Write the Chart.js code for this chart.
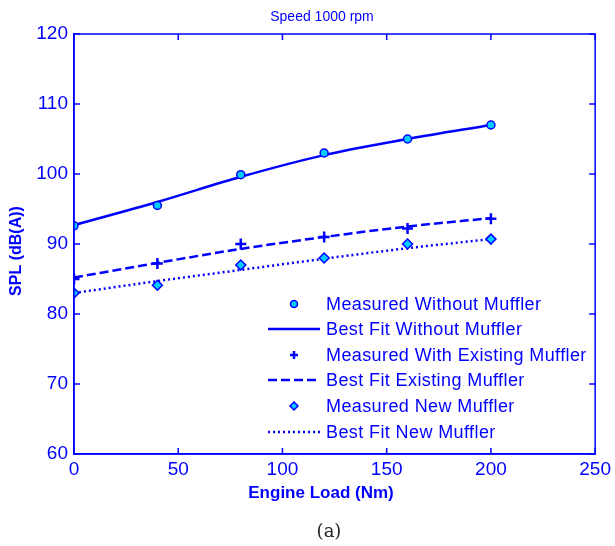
<!DOCTYPE html>
<html>
<head>
<meta charset="utf-8">
<script src="https://cdn.jsdelivr.net/npm/chart.js@4.4.1/dist/chart.umd.min.js"></script>
<style>
  html, body { margin: 0; padding: 0; background: #fff; }
  #wrap { width: 615px; height: 546px; position: relative; }
</style>
</head>
<body>
<div id="wrap"><canvas id="grafico"></canvas></div>
<script>
// engine load (Nm)
var loads = [0, 40, 80, 120, 160, 200];

// SPL dB(A)
var measuredWithout = [92.6, 95.5, 99.9, 103.0, 105.0, 107.0];
var fitWithout      = [92.7, 96.0, 99.6, 102.7, 105.0, 107.0];
var measuredExisting = [85.0, 87.2, 90.0, 91.0, 92.2, 93.6];
var fitExisting      = [85.2, 87.3, 89.3, 91.0, 92.5, 93.7];
var measuredNew = [83.0, 84.1, 87.0, 88.0, 90.0, 90.7];
var fitNew      = [83.0, 84.7, 86.3, 87.9, 89.4, 90.7];

var yTicks = [60, 70, 80, 90, 100, 110, 120];
var xTicks = [0, 50, 100, 150, 200, 250];

var blue = '#0000ff';
var cyan = '#00ccff';
var tickFont = { family: '"Liberation Sans Narrow", "Liberation Sans", Arial, sans-serif', size: 19 };

var pts = function(vals) {
  return loads.map(function(x, i) { return { x: x, y: vals[i] }; });
};

// box, inward ticks, texts and legend drawn like the matlab figure
var matlabFrame = {
  id: 'matlabFrame',
  afterDraw: function(chart) {
    var ctx = chart.ctx, a = chart.chartArea;
    var xs = chart.scales.x, ys = chart.scales.y;
    ctx.save();
    ctx.strokeStyle = blue;
    ctx.lineWidth = 1.5;
    ctx.strokeRect(a.left, a.top, a.right - a.left, a.bottom - a.top);
    ctx.beginPath();
    xTicks.forEach(function(v) {
      var px = xs.getPixelForValue(v);
      ctx.moveTo(px, a.bottom); ctx.lineTo(px, a.bottom - 6);
      ctx.moveTo(px, a.top); ctx.lineTo(px, a.top + 6);
    });
    yTicks.forEach(function(v) {
      var py = ys.getPixelForValue(v);
      ctx.moveTo(a.left, py); ctx.lineTo(a.left + 6, py);
      ctx.moveTo(a.right, py); ctx.lineTo(a.right - 6, py);
    });
    ctx.stroke();

    // titles
    ctx.fillStyle = blue;
    ctx.textAlign = 'center';
    ctx.textBaseline = 'middle';
    ctx.font = '14px "Liberation Sans", Arial, sans-serif';
    ctx.fillText('Speed 1000 rpm', 322, 17);
    ctx.font = 'bold 17px "Liberation Sans", Arial, sans-serif';
    ctx.fillText('Engine Load (Nm)', 321, 493);
    ctx.save();
    ctx.translate(17, 251);
    ctx.rotate(-Math.PI / 2);
    ctx.font = 'bold 16px "Liberation Sans", Arial, sans-serif';
    ctx.fillText('SPL (dB(A))', 0, 0);
    ctx.restore();
    ctx.fillStyle = '#222';
    ctx.font = '18px "DejaVu Serif", "Liberation Serif", serif';
    ctx.fillText('(a)', 329, 532);

    // legend
    var rowY = [304, 329, 355, 380, 406, 432];
    ctx.font = '18px "Liberation Sans", Arial, sans-serif';
    ctx.letterSpacing = '0.4px';
    ctx.textAlign = 'left';
    chart.data.datasets.forEach(function(ds, i) {
      var y = rowY[i];
      if (ds.showLine === false) {
        ctx.fillStyle = ds.backgroundColor;
        ctx.strokeStyle = ds.borderColor;
        ctx.lineWidth = ds.borderWidth;
        ctx.beginPath();
        if (ds.pointStyle === 'circle') {
          ctx.arc(294, y, 3.5, 0, Math.PI * 2);
          ctx.fill(); ctx.stroke();
        } else if (ds.pointStyle === 'rectRot') {
          ctx.moveTo(294, y - 4); ctx.lineTo(298, y); ctx.lineTo(294, y + 4); ctx.lineTo(290, y); ctx.closePath();
          ctx.fill(); ctx.stroke();
        } else {
          ctx.moveTo(290, y); ctx.lineTo(298, y); ctx.moveTo(294, y - 4); ctx.lineTo(294, y + 4);
          ctx.stroke();
        }
      } else {
        ctx.strokeStyle = ds.borderColor;
        ctx.lineWidth = ds.borderWidth;
        ctx.setLineDash(ds.borderDash || []);
        ctx.beginPath();
        ctx.moveTo(268, y); ctx.lineTo(320, y);
        ctx.stroke();
        ctx.setLineDash([]);
      }
      ctx.fillStyle = blue;
      ctx.fillText(ds.label, 326, y + 1);
    });
    ctx.restore();
  }
};

new Chart(document.getElementById('grafico'), {
  type: 'line',
  data: {
    datasets: [{
      label: 'Measured Without Muffler',
      data: pts(measuredWithout),
      showLine: false,
      pointStyle: 'circle',
      pointRadius: 4,
      backgroundColor: cyan,
      borderColor: blue,
      borderWidth: 1.5
    }, {
      label: 'Best Fit Without Muffler',
      data: pts(fitWithout),
      borderColor: blue,
      borderWidth: 2.5,
      pointRadius: 0,
      cubicInterpolationMode: 'monotone'
    }, {
      label: 'Measured With Existing Muffler',
      data: pts(measuredExisting),
      showLine: false,
      pointStyle: 'cross',
      pointRadius: 5.5,
      backgroundColor: blue,
      borderColor: blue,
      borderWidth: 2.5
    }, {
      label: 'Best Fit Existing Muffler',
      data: pts(fitExisting),
      borderColor: blue,
      borderWidth: 2.5,
      borderDash: [9, 4],
      pointRadius: 0,
      cubicInterpolationMode: 'monotone'
    }, {
      label: 'Measured New Muffler',
      data: pts(measuredNew),
      showLine: false,
      pointStyle: 'rectRot',
      pointRadius: 5,
      backgroundColor: cyan,
      borderColor: blue,
      borderWidth: 1.5
    }, {
      label: 'Best Fit New Muffler',
      data: pts(fitNew),
      borderColor: blue,
      borderWidth: 2.5,
      borderDash: [2, 3],
      pointRadius: 0,
      cubicInterpolationMode: 'monotone'
    }]
  },
  options: {
    responsive: true,
    maintainAspectRatio: false,
    animation: false,
    layout: { padding: { top: 34, right: 18, left: 0, bottom: 0 } },
    plugins: {
      legend: { display: false },
      title: { display: false },
      tooltip: { enabled: false }
    },
    scales: {
      x: {
        type: 'linear',
        min: 0, max: 250,
        afterBuildTicks: function(s) { s.ticks = xTicks.map(function(v) { return { value: v }; }); },
        grid: { display: false, drawTicks: false },
        border: { display: true, color: blue, width: 1.5 },
        ticks: { color: blue, padding: 4, font: tickFont },
        afterFit: function(s) { s.height = 92; }
      },
      y: {
        min: 60, max: 120,
        afterBuildTicks: function(s) { s.ticks = yTicks.map(function(v) { return { value: v }; }); },
        grid: { display: false, drawTicks: false },
        border: { display: true, color: blue, width: 1.5 },
        ticks: { color: blue, padding: 6, font: tickFont },
        afterFit: function(s) { s.width = 74; }
      }
    }
  },
  plugins: [matlabFrame]
});
</script>
</body>
</html>
